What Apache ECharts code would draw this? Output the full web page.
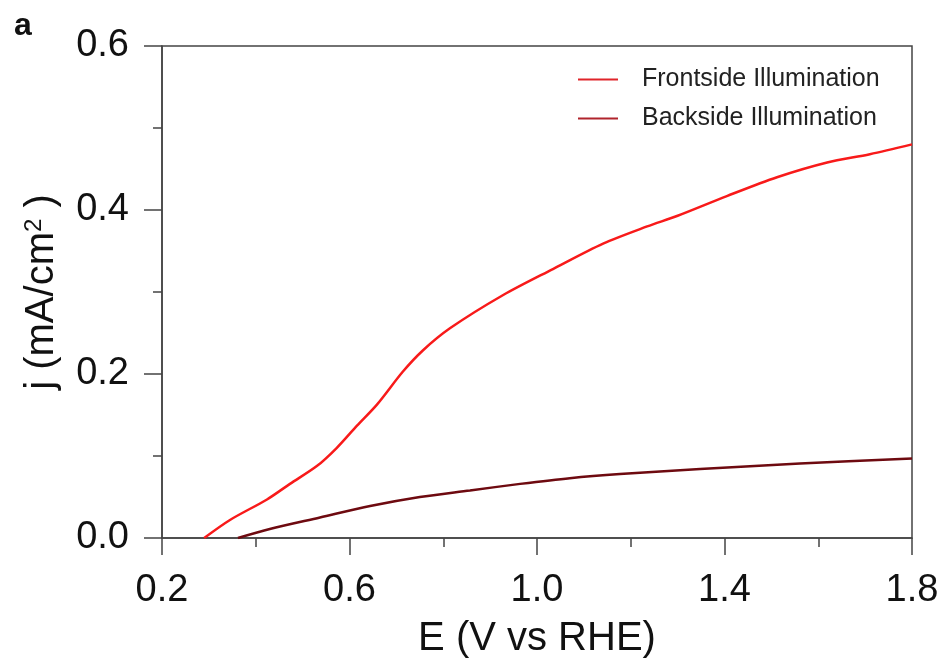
<!DOCTYPE html>
<html>
<head>
<meta charset="utf-8">
<script src="https://cdn.jsdelivr.net/npm/echarts@6/dist/echarts.min.js"></script>
<style>
html,body{margin:0;padding:0;background:#fff;}
#chart{width:945px;height:664px;}
</style>
</head>
<body>
<div id="chart"></div>
<script>
// Data
var frontE = [0.29, 0.345, 0.424, 0.473, 0.531, 0.573, 0.616, 0.659, 0.714, 0.757, 0.815, 0.927, 1.034, 1.141, 1.235, 1.30, 1.405, 1.512, 1.619, 1.710, 1.80];
var frontJ = [0.0, 0.022, 0.047, 0.066, 0.088, 0.110, 0.137, 0.163, 0.203, 0.229, 0.256, 0.296, 0.328, 0.359, 0.380, 0.393, 0.417, 0.440, 0.458, 0.468, 0.480];
var backE = [0.362, 0.430, 0.537, 0.644, 0.750, 0.857, 0.964, 1.07, 1.177, 1.348, 1.561, 1.80];
var backJ = [0.0, 0.011, 0.025, 0.039, 0.050, 0.058, 0.066, 0.073, 0.078, 0.084, 0.091, 0.097];
var seriesNames = ['Frontside Illumination', 'Backside Illumination'];
var xTicks = [0.2, 0.6, 1.0, 1.4, 1.8];
var yTicks = [0.0, 0.2, 0.4, 0.6];

function pairs(xs, ys) { return xs.map(function (x, i) { return [x, ys[i]]; }); }

var FONT = 'Liberation Sans, Arial, sans-serif';
var chart = echarts.init(document.getElementById('chart'));
chart.setOption({
  backgroundColor: '#ffffff',
  animation: false,
  graphic: [{
    type: 'text', left: 14, top: 10,
    style: { text: 'a', font: 'bold 32px ' + FONT, fill: '#111' }
  }],
  legend: {
    orient: 'vertical',
    left: 573, top: 62,
    icon: 'rect',
    itemWidth: 40, itemHeight: 2, itemGap: 14,
    data: seriesNames,
    textStyle: { fontFamily: FONT, fontSize: 25, color: '#222', padding: [0, 0, 0, 19] }
  },
  grid: {
    left: 162, right: 33, top: 46, bottom: 123,
    show: true, borderColor: '#444', borderWidth: 1.5, backgroundColor: 'transparent'
  },
  xAxis: {
    type: 'value',
    min: xTicks[0], max: xTicks[xTicks.length - 1], interval: 0.4,
    name: 'E (V vs RHE)', nameLocation: 'middle', nameGap: 81,
    nameTextStyle: { fontFamily: FONT, fontSize: 40, color: '#111' },
    axisLine: { show: true, lineStyle: { color: '#444', width: 1.5 } },
    axisTick: { show: true, inside: false, length: 17, lineStyle: { color: '#444', width: 1.5 } },
    minorTick: { show: true, splitNumber: 2, length: 9, lineStyle: { color: '#444', width: 1.5 } },
    splitLine: { show: false },
    axisLabel: { margin: 34, fontFamily: FONT, fontSize: 38, color: '#111',
      formatter: function (v) { return v.toFixed(1); } }
  },
  yAxis: {
    type: 'value',
    min: yTicks[0], max: yTicks[yTicks.length - 1], interval: 0.2,
    name: 'j (mA/cm{sup|2} )', nameLocation: 'middle', nameGap: 100,
    nameTextStyle: { fontFamily: FONT, fontSize: 40, color: '#111',
      rich: { sup: { fontFamily: FONT, fontSize: 24, color: '#111', verticalAlign: 'top', padding: [0, 0, 16, 0] } } },
    axisLine: { show: true, lineStyle: { color: '#444', width: 1.5 } },
    axisTick: { show: true, inside: false, length: 18, lineStyle: { color: '#444', width: 1.5 } },
    minorTick: { show: true, splitNumber: 2, length: 9, lineStyle: { color: '#444', width: 1.5 } },
    splitLine: { show: false },
    axisLabel: { margin: 33, fontFamily: FONT, fontSize: 38, color: '#111',
      formatter: function (v) { return v.toFixed(1); } }
  },
  series: [{
    name: seriesNames[0], type: 'line', data: pairs(frontE, frontJ),
    smooth: 0.3, symbol: 'none',
    lineStyle: { color: '#f81a1a', width: 2.5 }, itemStyle: { color: '#e0242a' }
  }, {
    name: seriesNames[1], type: 'line', data: pairs(backE, backJ),
    smooth: 0.3, symbol: 'none',
    lineStyle: { color: '#6e0a10', width: 2.5 }, itemStyle: { color: '#b0242c' }
  }]
});
</script>
</body>
</html>
